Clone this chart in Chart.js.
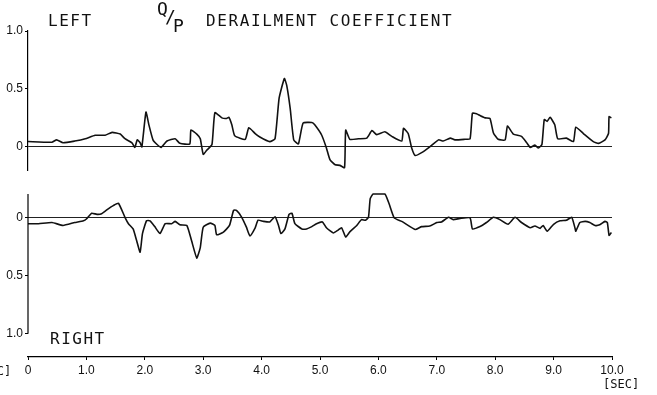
<!DOCTYPE html>
<html>
<head>
<meta charset="utf-8">
<script src="https://cdn.jsdelivr.net/npm/chart.js@4"></script>
<style>
  body { margin: 0; background: #fff; }
  #wrap { position: relative; width: 657px; height: 395px; overflow: hidden; background: #fff; }
  #wrap canvas { position: absolute; left: 0; }
  .lbl { position: absolute; font-family: "DejaVu Sans Mono", monospace; color: #111; white-space: nowrap; line-height: 16px; }
</style>
</head>
<body>
<div id="wrap">
  <canvas id="left-chart" width="657" height="180" style="top:0"></canvas>
  <canvas id="right-chart" width="657" height="215" style="top:180px"></canvas>

  <div class="lbl" style="left:48px; top:13px; font-size:16px; letter-spacing:1.5px;">LEFT</div>
  <div class="lbl" style="left:157px; top:1px; font-size:18px;">Q</div>
  <div class="lbl" style="left:165px; top:9px; font-size:18px;">/</div>
  <div class="lbl" style="left:173px; top:18px; font-size:18px;">P</div>
  <div class="lbl" style="left:206px; top:13px; font-size:16px; letter-spacing:1.6px;">DERAILMENT COEFFICIENT</div>
  <div class="lbl" style="left:50px; top:331px; font-size:16px; letter-spacing:1.5px;">RIGHT</div>
  <div class="lbl" style="left:603px; top:376px; font-size:12px;">[SEC]</div>
  <div class="lbl" style="left:-25px; top:363px; font-size:12px;">[SEC]</div>
</div>

<script>
// time axis (sec) and Q/P values
const leftTime = [0, 0.41, 0.49, 0.60, 0.80, 0.98, 1.15, 1.32, 1.44, 1.58,
    1.66, 1.78, 1.83, 1.87, 1.92, 1.95, 2.02, 2.07, 2.14, 2.21,
    2.28, 2.38, 2.52, 2.60, 2.77, 2.79, 2.89, 2.95, 3.00, 3.06,
    3.15, 3.20, 3.32, 3.40, 3.44, 3.49, 3.54, 3.72, 3.78, 3.89,
    3.97, 4.14, 4.23, 4.30, 4.39, 4.43, 4.49, 4.55, 4.63, 4.71,
    4.86, 4.91, 5.03, 5.11, 5.17, 5.26, 5.34, 5.42, 5.44, 5.51,
    5.66, 5.80, 5.89, 5.97, 6.11, 6.23, 6.40, 6.43, 6.51, 6.57,
    6.63, 6.74, 6.88, 7.03, 7.11, 7.23, 7.31, 7.48, 7.57, 7.61,
    7.68, 7.74, 7.83, 7.91, 7.97, 8.05, 8.17, 8.21, 8.31, 8.45,
    8.54, 8.60, 8.68, 8.74, 8.80, 8.84, 8.89, 8.94, 9.02, 9.07,
    9.22, 9.34, 9.38, 9.51, 9.68, 9.77, 9.88, 9.94, 9.95, 9.99];
const leftQP = [0.046, 0.04, 0.06, 0.035, 0.05, 0.07, 0.10, 0.10, 0.125, 0.11,
    0.07, 0.035, -0.005, 0.06, 0.035, 0.0, 0.30, 0.19, 0.06, 0.02,
    -0.005, 0.05, 0.07, 0.03, 0.025, 0.145, 0.11, 0.07, -0.065, -0.03,
    0.02, 0.295, 0.25, 0.245, 0.255, 0.19, 0.095, 0.065, 0.165, 0.115,
    0.085, 0.045, 0.07, 0.42, 0.59, 0.53, 0.33, 0.06, 0.025, 0.205,
    0.21, 0.19, 0.10, -0.01, -0.11, -0.155, -0.16, -0.18, 0.145, 0.065,
    0.07, 0.075, 0.14, 0.105, 0.13, 0.09, 0.05, 0.16, 0.115, -0.01,
    -0.075, -0.05, 0.0, 0.06, 0.05, 0.075, 0.06, 0.065, 0.07, 0.29,
    0.285, 0.27, 0.25, 0.245, 0.12, 0.065, 0.06, 0.18, 0.11, 0.09,
    0.035, -0.005, 0.015, -0.01, 0.02, 0.235, 0.22, 0.255, 0.19, 0.07,
    0.075, 0.045, 0.17, 0.115, 0.045, 0.03, 0.06, 0.115, 0.26, 0.25];

const rightTime = [0, 0.18, 0.41, 0.60, 0.80, 0.95, 1.00, 1.09, 1.18, 1.26,
    1.38, 1.46, 1.55, 1.66, 1.72, 1.80, 1.86, 1.92, 1.96, 2.03,
    2.09, 2.17, 2.26, 2.35, 2.46, 2.52, 2.60, 2.72, 2.80, 2.89,
    2.95, 3.00, 3.12, 3.20, 3.23, 3.34, 3.45, 3.52, 3.57, 3.66,
    3.74, 3.80, 3.89, 3.94, 4.03, 4.14, 4.23, 4.29, 4.33, 4.40,
    4.47, 4.52, 4.57, 4.69, 4.77, 4.86, 4.94, 5.04, 5.11, 5.23,
    5.31, 5.37, 5.44, 5.51, 5.63, 5.71, 5.78, 5.83, 5.86, 5.91,
    6.11, 6.18, 6.27, 6.40, 6.63, 6.74, 6.88, 7.00, 7.08, 7.20,
    7.28, 7.40, 7.57, 7.61, 7.74, 7.85, 7.97, 8.08, 8.22, 8.34,
    8.45, 8.60, 8.68, 8.77, 8.82, 8.89, 9.00, 9.11, 9.22, 9.31,
    9.37, 9.38, 9.45, 9.54, 9.62, 9.71, 9.79, 9.88, 9.92, 9.95, 9.99];
const rightQP = [0.055, 0.055, 0.045, 0.07, 0.045, 0.03, 0.015, -0.035, -0.025, -0.03,
    -0.075, -0.10, -0.12, 0.0, 0.055, 0.10, 0.20, 0.30, 0.14, 0.03,
    0.03, 0.08, 0.14, 0.055, 0.055, 0.035, 0.065, 0.07, 0.20, 0.35,
    0.26, 0.085, 0.05, 0.07, 0.15, 0.13, 0.07, -0.06, -0.06, 0.0,
    0.085, 0.16, 0.09, 0.025, 0.035, 0.04, -0.005, 0.07, 0.14, 0.10,
    -0.025, -0.035, 0.055, 0.10, 0.10, 0.08, 0.055, 0.04, 0.09, 0.135,
    0.11, 0.09, 0.17, 0.125, 0.07, 0.02, 0.025, 0.0, -0.16, -0.2,
    -0.2, -0.12, 0.005, 0.035, 0.105, 0.08, 0.075, 0.045, 0.04, 0.0,
    0.02, 0.01, 0.005, 0.10, 0.08, 0.045, 0.0, 0.02, 0.06, 0.0,
    0.045, 0.09, 0.075, 0.095, 0.07, 0.12, 0.06, 0.03, 0.025, 0.0,
    0.10, 0.12, 0.045, 0.035, 0.045, 0.07, 0.065, 0.035, 0.045, 0.155, 0.13];

const yTicks = [0, 0.5, 1.0];
const xTicks = [0, 1, 2, 3, 4, 5, 6, 7, 8, 9, 10];

const tickFont = { family: 'Liberation Sans', size: 12 };

function points(xs, ys) {
    return xs.map((x, i) => ({ x: x, y: ys[i] }));
}

function qpLabel(v) {
    return v === 0 ? '0' : v.toFixed(1);
}

function yScale(min, max, reverse) {
    return {
        type: 'linear',
        min: min,
        max: max,
        reverse: reverse,
        afterBuildTicks: s => { s.ticks = yTicks.map(v => ({ value: v })); },
        afterFit: s => { s.width = 28; },
        border: { color: '#000', width: 1.2, display: !reverse },
        grid: {
            color: c => (c.tick && c.tick.value === 0) ? '#222' : 'rgba(0,0,0,0)',
            tickColor: '#000',
            lineWidth: 1,
            tickLength: 3
        },
        ticks: { color: '#111', font: tickFont, padding: 2, callback: qpLabel }
    };
}

function trace(data) {
    return {
        data: data,
        borderColor: '#111',
        borderWidth: 1.6,
        pointRadius: 0,
        tension: 0.15,
        fill: false,
        clip: 4
    };
}

// bottom panel axis line stops at 1.0, the time axis sits below it
const rightAxisLine = {
    id: 'rightAxisLine',
    afterDraw(chart) {
        const y = chart.scales.y;
        const ctx = chart.ctx;
        const x0 = chart.chartArea.left;
        ctx.save();
        ctx.strokeStyle = '#000';
        ctx.lineWidth = 1.2;
        ctx.beginPath();
        ctx.moveTo(x0, y.getPixelForValue(-0.2));
        ctx.lineTo(x0, y.getPixelForValue(1.0));
        ctx.stroke();
        ctx.restore();
    }
};

new Chart(document.getElementById('left-chart').getContext('2d'), {
    type: 'line',
    data: { datasets: [trace(points(leftTime, leftQP))] },
    options: {
        responsive: false,
        animation: false,
        layout: { padding: { top: 31, bottom: 10, right: 45, left: 0 } },
        plugins: { legend: { display: false }, tooltip: { enabled: false } },
        scales: {
            x: { type: 'linear', min: 0, max: 10, display: false },
            y: yScale(-0.2, 1.0, false)
        }
    }
});

new Chart(document.getElementById('right-chart').getContext('2d'), {
    type: 'line',
    data: { datasets: [trace(points(rightTime, rightQP))] },
    options: {
        responsive: false,
        animation: false,
        layout: { padding: { top: 14, bottom: 0, right: 45, left: 0 } },
        plugins: { legend: { display: false }, tooltip: { enabled: false } },
        scales: {
            x: {
                type: 'linear',
                min: 0,
                max: 10,
                afterBuildTicks: s => { s.ticks = xTicks.map(v => ({ value: v })); },
                afterFit: s => { s.height = 38; },
                border: { color: '#000', width: 1.2 },
                grid: { drawOnChartArea: false, tickColor: '#000', tickLength: 3 },
                ticks: { color: '#111', font: tickFont, padding: 3, maxRotation: 0, callback: qpLabel }
            },
            y: yScale(-0.2, 1.2, true)
        }
    },
    plugins: [rightAxisLine]
});
</script>
</body>
</html>
